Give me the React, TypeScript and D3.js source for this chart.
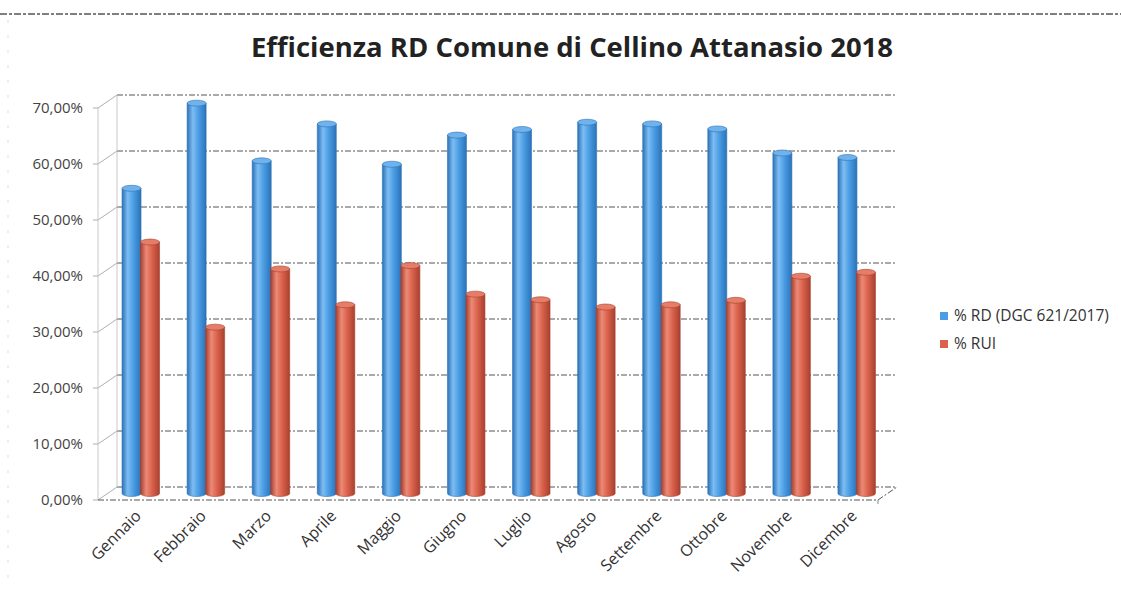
import React from "react";
import * as d3 from "d3";

const months = ["Gennaio","Febbraio","Marzo","Aprile","Maggio","Giugno","Luglio","Agosto","Settembre","Ottobre","Novembre","Dicembre"];
const seriesNames = ["% RD (DGC 621/2017)", "% RUI"];
const rdValues = [0.545, 0.697, 0.594, 0.660, 0.588, 0.640, 0.650, 0.663, 0.660, 0.651, 0.608, 0.600];
const ruiValues = [0.449, 0.297, 0.401, 0.337, 0.407, 0.356, 0.346, 0.333, 0.337, 0.345, 0.388, 0.395];
const yTicks = [0, 0.1, 0.2, 0.3, 0.4, 0.5, 0.6, 0.7];
const title = "Efficienza RD Comune di Cellino Attanasio 2018";

const W = 1121, H = 590;
const FONT = "'Open Sans', 'DejaVu Sans', sans-serif";

export default function App() {
  const depthX = 19, depthY = 13;
  const backLeft = 117, backRight = 897;
  const yBack = d3.scaleLinear().domain([0, 0.7]).range([487, 95]);
  const yBar = d3.scaleLinear().domain([0, 0.7]).range([493.5, 101.5]);
  const x0 = d3.scaleBand<string>().domain(months).range([108.5, 889.5]);
  const x1 = d3.scaleBand<string>().domain(seriesNames).range([-19, 19]);
  const barW = 19;
  const ry = 3;
  const fmt = (v: number) => d3.format(".2f")(v * 100).replace(".", ",") + "%";
  const colors = [
    { id: "gBlue", dark: "#2C72B8", mid: "#4A9DE4", light: "#7DBDF2", top: "#6FB2EC" },
    { id: "gRed", dark: "#A8402F", mid: "#DA624C", light: "#EC8A76", top: "#E57D69" },
  ];
  const data = [rdValues, ruiValues];

  return (
    <svg width={W} height={H} style={{ display: "block", position: "absolute", left: 0, top: 0, background: "#fff" }}>
      <defs>
        {colors.map((c) => (
          <linearGradient key={c.id} id={c.id} x1="0" x2="1" y1="0" y2="0">
            <stop offset="0%" stopColor={c.dark} />
            <stop offset="30%" stopColor={c.light} />
            <stop offset="60%" stopColor={c.mid} />
            <stop offset="100%" stopColor={c.dark} />
          </linearGradient>
        ))}
      </defs>
      <rect x={0} y={0} width={W} height={H} fill="#fff" />
      {/* page scan rule */}
      <line x1={0} x2={W} y1={14} y2={14} stroke="#555" strokeWidth={1.3} strokeDasharray="7,2,3,2" />
      <line x1={8} x2={8} y1={20} y2={H} stroke="#ddd" strokeWidth={1} strokeDasharray="3,12" />

      {/* title */}
      <text x={572} y={57} textAnchor="middle" fontFamily={FONT} fontWeight="bold" fontSize={26} fill="#222" textLength={642} lengthAdjust="spacingAndGlyphs">{title}</text>

      {/* back wall gridlines */}
      {yTicks.map((t) => (
        <g key={t}>
          <line x1={backLeft} x2={backRight} y1={yBack(t)} y2={yBack(t)} stroke="#555" strokeWidth={1} strokeDasharray="6,2,2,2" />
          <line x1={backLeft - depthX} x2={backLeft} y1={yBack(t) + depthY} y2={yBack(t)} stroke="#999" strokeWidth={0.8} />
          <line x1={backLeft - depthX - 5} x2={backLeft - depthX} y1={yBack(t) + depthY} y2={yBack(t) + depthY} stroke="#999" strokeWidth={0.8} />
          <text x={83} y={yBack(t) + depthY + 5} textAnchor="end" fontFamily={FONT} fontSize={15} fill="#444">{fmt(t)}</text>
        </g>
      ))}
      {/* wall edges */}
      <line x1={backLeft} x2={backLeft} y1={yBack(0.7)} y2={yBack(0)} stroke="#bbb" strokeWidth={0.8} />
      <line x1={backLeft - depthX} x2={backLeft - depthX} y1={yBack(0.7) + depthY} y2={yBack(0) + depthY} stroke="#bbb" strokeWidth={0.8} />
      {/* floor */}
      <path d={`M${backLeft - depthX},${yBack(0) + depthY} L${backRight - depthX},${yBack(0) + depthY} L${backRight},${yBack(0)}`} fill="none" stroke="#555" strokeWidth={1} strokeDasharray="6,2,2,2" />
      <line x1={backRight - depthX} x2={backRight - depthX} y1={yBack(0) + depthY} y2={yBack(0) + depthY + 4} stroke="#888" />

      {/* bars */}
      {months.map((m, i) => (
        <g key={m}>
          {seriesNames.map((s, si) => {
            const v = data[si][i];
            const x = (x0(m) as number) + x0.bandwidth() / 2 + (x1(s) as number) + (si === 1 ? -0.5 : 0);
            const yTop = yBar(v);
            const yBase = yBar(0);
            const cx = x + barW / 2;
            const c = colors[si];
            return (
              <g key={s}>
                <path d={`M${x},${yTop} L${x},${yBase} A${barW / 2},${ry} 0 0 0 ${x + barW},${yBase} L${x + barW},${yTop} Z`} fill={`url(#${c.id})`} stroke={c.dark} strokeWidth={0.6} />
                <ellipse cx={cx} cy={yTop} rx={barW / 2} ry={ry} fill={c.top} stroke={c.dark} strokeWidth={0.6} />
              </g>
            );
          })}
          <text transform={`translate(${(x0(m) as number) + x0.bandwidth() / 2 + 1},${517}) rotate(-45)`} textAnchor="end" fontFamily={FONT} fontSize={16} fill="#333">{m}</text>
        </g>
      ))}

      {/* legend */}
      {seriesNames.map((s, si) => (
        <g key={s} transform={`translate(940,${312 + si * 28})`}>
          <rect x={0} y={0} width={8} height={8} fill={colors[si].mid} />
          <text x={14} y={9} fontFamily={FONT} fontSize={15.5} fill="#333">{s}</text>
        </g>
      ))}
    </svg>
  );
}
